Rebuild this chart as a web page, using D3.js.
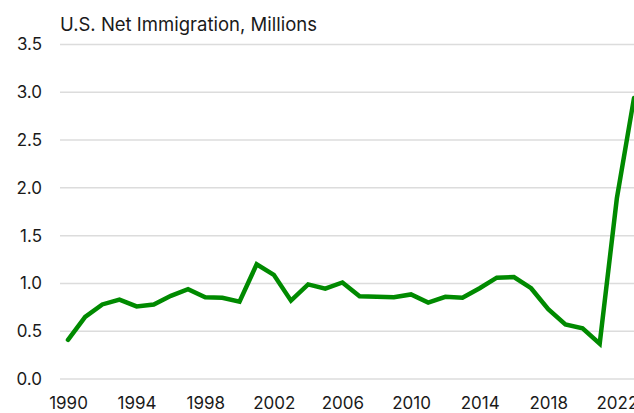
<!DOCTYPE html>
<html>
<head>
<meta charset="utf-8">
<script src="https://cdn.jsdelivr.net/npm/d3@7"></script>
<style>
  html, body { margin: 0; padding: 0; background: #fff; }
  svg { display: block; font-family: Inter, "Open Sans", sans-serif; }
</style>
</head>
<body>
<svg id="chart" width="634" height="413"></svg>
<script>
// U.S. net immigration, millions of people per year
const years = [1990, 1991, 1992, 1993, 1994, 1995, 1996, 1997, 1998, 1999,
               2000, 2001, 2002, 2003, 2004, 2005, 2006, 2007, 2008, 2009,
               2010, 2011, 2012, 2013, 2014, 2015, 2016, 2017, 2018, 2019,
               2020, 2021, 2022, 2023];
const netImmigration = [0.41, 0.65, 0.78, 0.83, 0.76, 0.78, 0.87, 0.94, 0.855, 0.85,
                        0.81, 1.20, 1.09, 0.82, 0.99, 0.945, 1.01, 0.865, 0.86, 0.855,
                        0.885, 0.80, 0.86, 0.85, 0.95, 1.06, 1.067, 0.95, 0.73, 0.57,
                        0.53, 0.37, 1.89, 2.94];
const yTicks = [0, 0.5, 1, 1.5, 2, 2.5, 3, 3.5];
const xTicks = [1990, 1994, 1998, 2002, 2006, 2010, 2014, 2018, 2022];
const subtitle = "U.S. Net Immigration, Millions";

const svg = d3.select("#chart");

const x = d3.scaleLinear().domain([1990, 2023]).range([68, 634]);
const y = d3.scaleLinear().domain([0, 3.5]).range([379, 44.5]);
const gridLeft = 60, gridRight = 634;

// subtitle
svg.append("text")
  .attr("x", 60).attr("y", 31)
  .attr("font-size", 18.5)
  .attr("fill", "#1a1a1a")
  .text(subtitle);

// horizontal gridlines
svg.append("g")
  .selectAll("line")
  .data(yTicks)
  .join("line")
  .attr("x1", gridLeft).attr("x2", gridRight)
  .attr("y1", d => y(d)).attr("y2", d => y(d))
  .attr("stroke", "#dcdcdc")
  .attr("stroke-width", 1.5);

// y axis labels
const yAxis = d3.axisLeft(y).tickValues(yTicks).tickFormat(d3.format(".1f")).tickSize(0).tickPadding(0);
svg.append("g")
  .attr("transform", "translate(42,0)")
  .call(yAxis)
  .call(g => g.select(".domain").remove())
  .call(g => g.selectAll("text")
    .attr("font-size", 17)
    .attr("font-family", "Inter, 'Open Sans', sans-serif")
    .attr("fill", "#1a1a1a"));

// x axis labels
const xAxis = d3.axisBottom(x).tickValues(xTicks).tickFormat(d3.format("d")).tickSize(0).tickPadding(0);
svg.append("g")
  .attr("transform", "translate(0,397)")
  .call(xAxis)
  .call(g => g.select(".domain").remove())
  .call(g => g.selectAll("text")
    .attr("font-size", 17)
    .attr("font-family", "Inter, 'Open Sans', sans-serif")
    .attr("fill", "#1a1a1a"));

// data line
const line = d3.line()
  .x((d, i) => x(years[i]))
  .y(d => y(d));

svg.append("path")
  .datum(netImmigration)
  .attr("d", line)
  .attr("fill", "none")
  .attr("stroke", "#008a00")
  .attr("stroke-width", 4.5)
  .attr("stroke-linejoin", "miter")
  .attr("stroke-linecap", "round");
</script>
</body>
</html>
